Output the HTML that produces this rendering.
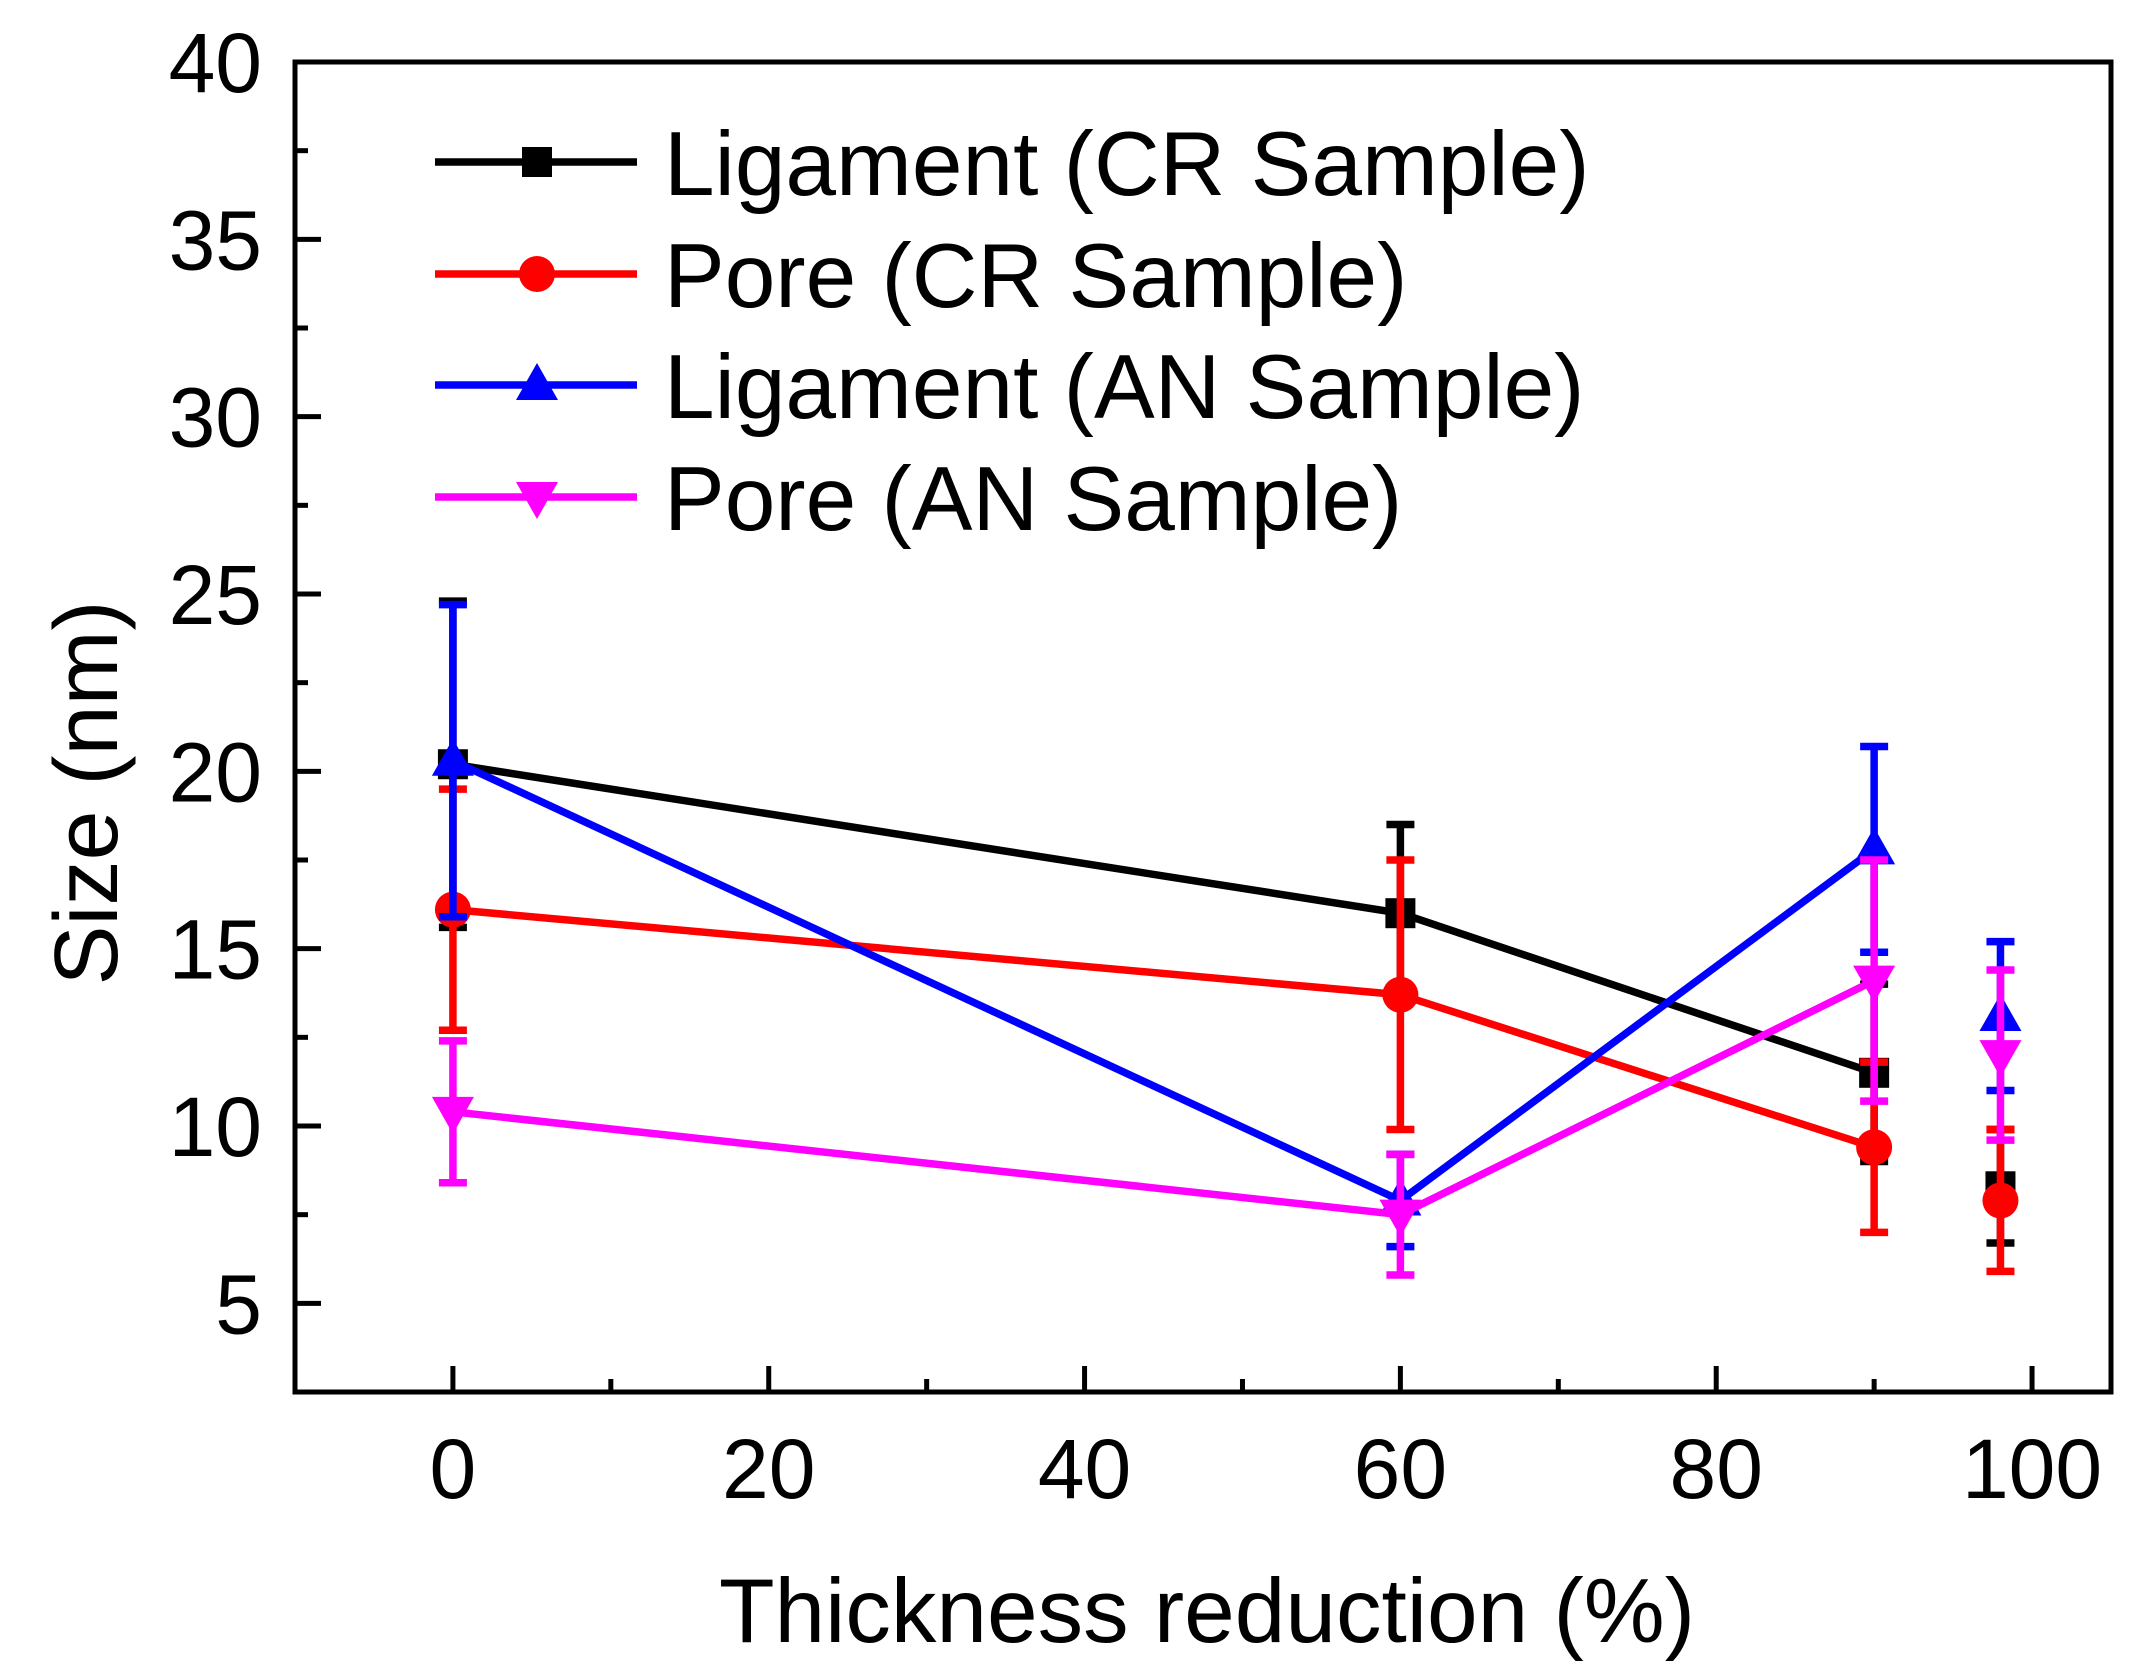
<!DOCTYPE html>
<html><head><meta charset="utf-8"><style>
html,body{margin:0;padding:0;background:#fff;}
svg{display:block;font-family:"Liberation Sans",Arial,sans-serif;}
</style></head><body>
<svg id="chart" width="2147" height="1667" viewBox="0 0 2147 1667" xmlns="http://www.w3.org/2000/svg">
<rect width="2147" height="1667" fill="#fff"/>
<g id="plot"></g>
<text x="1207" y="1642" font-size="91" text-anchor="middle">Thickness reduction (%)</text>
<text transform="translate(117,793) rotate(-90)" font-size="90" text-anchor="middle">Size (nm)</text>
</svg>
<script>
const xCats = [0, 60, 90, 98];
const ligCR = [20.2, 16.0, 11.5, 8.3];
const ligCRErr = [4.6, 2.5, 2.5, 1.6];
const poreCR = [16.1, 13.7, 9.4, 7.9];
const poreCRErr = [3.4, 3.8, 2.4, 2.0];
const ligAN = [20.3, 7.9, 17.8, 13.1];
const ligANErr = [4.4, 1.3, 2.9, 2.1];
const poreAN = [10.4, 7.5, 14.1, 12.0];
const poreANErr = [2.0, 1.7, 3.4, 2.4];
const xTicks = [0, 20, 40, 60, 80, 100];
const yTicks = [5, 10, 15, 20, 25, 30, 35, 40];
const legendLabels = ["Ligament (CR Sample)", "Pore (CR Sample)", "Ligament (AN Sample)", "Pore (AN Sample)"];

const L=295, R=2111, T=62, B=1392;
const xMin=-10, xMax=105, yMin=2.5, yMax=40;
function sx(v){return L+(v-xMin)/(xMax-xMin)*(R-L);}
function sy(v){return B-(v-yMin)/(yMax-yMin)*(B-T);}
const NS="http://www.w3.org/2000/svg";
const g=document.getElementById('plot');
function el(tag,attrs,parent){const e=document.createElementNS(NS,tag);for(const k in attrs)e.setAttribute(k,attrs[k]);(parent||g).appendChild(e);return e;}

for(let v=-10; v<=105; v+=10){
  const major = v%20===0;
  const t=el('line',{x1:sx(v),x2:sx(v),y1:B,y2:B-(major?26:13),stroke:'#000','stroke-width':5});
  
  
}
for(let v=2.5; v<=40; v+=2.5){
  const major = Math.abs(v%5)<1e-9;
  const t=el('line',{x1:L,x2:L+(major?26:13),y1:sy(v),y2:sy(v),stroke:'#000','stroke-width':5});
  
  
}
xTicks.forEach(v=>{
  const t=el('text',{x:sx(v),y:1498,'font-size':84,'text-anchor':'middle'});
  t.textContent=v;
  
  
});
yTicks.forEach(v=>{
  const t=el('text',{x:262,y:sy(v)+30,'font-size':84,'text-anchor':'end'});
  t.textContent=v;
  
  
});

function marker(type,cx,cy,color,parent){
  let m;
  if(type==='square') m=el('rect',{x:cx-15,y:cy-15,width:30,height:30,fill:color},parent);
  else if(type==='circle') m=el('circle',{cx:cx,cy:cy,r:18,fill:color},parent);
  else if(type==='up') m=el('polygon',{points:`${cx},${cy-22} ${cx-21},${cy+15} ${cx+21},${cy+15}`,fill:color},parent);
  else m=el('polygon',{points:`${cx},${cy+22} ${cx-21},${cy-15} ${cx+21},${cy-15}`,fill:color},parent);
  return m;
}

const series=[
  {name:'ligament-cr',vals:ligCR,err:ligCRErr,color:'#000000',m:'square'},
  {name:'pore-cr',vals:poreCR,err:poreCRErr,color:'#ff0000',m:'circle'},
  {name:'ligament-an',vals:ligAN,err:ligANErr,color:'#0000ff',m:'up'},
  {name:'pore-an',vals:poreAN,err:poreANErr,color:'#ff00ff',m:'down'}
];
series.forEach(s=>{
  const sg=el('g',{});
  
  
  const pts=xCats.slice(0,3).map((x,i)=>sx(x)+','+sy(s.vals[i])).join(' ');
  const pl=el('polyline',{points:pts,fill:'none',stroke:s.color,'stroke-width':7.5,'stroke-linejoin':'round'},sg);
  
  
  xCats.forEach((x,i)=>{
    const cx=sx(x), hi=sy(s.vals[i]+s.err[i]), lo=sy(s.vals[i]-s.err[i]);
    const eb=el('path',{d:`M${cx},${hi}V${lo}M${cx-14},${hi}H${cx+14}M${cx-14},${lo}H${cx+14}`,stroke:s.color,'stroke-width':7.5,fill:'none'},sg);
    
    
    const mk=marker(s.m,cx,sy(s.vals[i]),s.color,sg);
    
    
  });
});

const legY=[162,274,385,497];
series.forEach((s,i)=>{
  const lg=el('g',{});
  
  
  el('line',{x1:435,x2:637,y1:legY[i],y2:legY[i],stroke:s.color,'stroke-width':7.5},lg);
  marker(s.m,537,legY[i],s.color,lg);
  const t=el('text',{x:664,y:legY[i]+33,'font-size':91},lg);
  t.textContent=legendLabels[i];
});

const fr=el('rect',{x:L,y:T,width:R-L,height:B-T,fill:'none',stroke:'#000','stroke-width':5});


</script>
</body></html>
